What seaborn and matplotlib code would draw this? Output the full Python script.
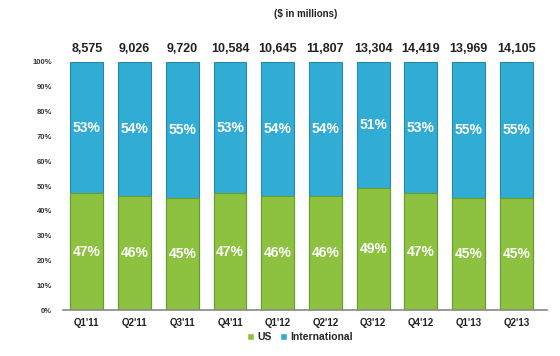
import pandas as pd
import matplotlib
matplotlib.use("Agg")
import matplotlib.pyplot as plt
import seaborn as sns
from matplotlib.patches import Patch

# Données
quarters = ["Q1'11", "Q2'11", "Q3'11", "Q4'11", "Q1'12", "Q2'12", "Q3'12", "Q4'12", "Q1'13", "Q2'13"]
us_pct = [47, 46, 45, 47, 46, 46, 49, 47, 45, 45]
intl_pct = [53, 54, 55, 53, 54, 54, 51, 53, 55, 55]
totals = ["8,575", "9,026", "9,720", "10,584", "10,645", "11,807", "13,304", "14,419", "13,969", "14,105"]

df = pd.DataFrame({"quarter": quarters, "US": us_pct, "International": intl_pct})
df["stack"] = df["US"] + df["International"]

sns.set_style("white")
plt.rcParams["font.family"] = ["Liberation Sans", "DejaVu Sans"]

green = "#8cc23f"
blue = "#31acd5"

fig = plt.figure(figsize=(5.6, 3.56), dpi=100)
ax = fig.add_axes([0.1125, 0.129, 0.865, 0.697])

# On dessine la pile : international en haut, US en bas
sns.barplot(data=df, x="quarter", y="stack", color=blue, width=0.69,
            edgecolor="#2688a9", linewidth=0.8, saturation=1, ax=ax)
sns.barplot(data=df, x="quarter", y="US", color=green, width=0.69,
            edgecolor="#6d9b2b", linewidth=0.8, saturation=1, ax=ax)

for i in range(len(quarters)):
    ax.text(i, us_pct[i] / 2, f"{us_pct[i]}%", ha="center", va="center",
            color="white", fontsize=10, fontweight="bold")
    ax.text(i, us_pct[i] + intl_pct[i] / 2, f"{intl_pct[i]}%", ha="center", va="center",
            color="white", fontsize=10, fontweight="bold")
    ax.text(i, 103, totals[i], ha="center", va="bottom",
            color="#222222", fontsize=9, fontweight="bold")

ax.set_ylim(0, 100)
ax.set_xlim(-0.5, 9.65)
ax.set_yticks(range(0, 101, 10))
ax.set_yticklabels([f"{v}%" for v in range(0, 101, 10)], fontsize=5.5, fontweight="bold", color="#333333")
ax.tick_params(axis="x", labelsize=7, length=0, pad=6)
for lab in ax.get_xticklabels():
    lab.set_fontweight("bold")
    lab.set_color("#222222")
ax.tick_params(axis="y", length=0, pad=8)
ax.set_xlabel("")
ax.set_ylabel("")
for s in ["top", "right", "left"]:
    ax.spines[s].set_visible(False)
ax.spines["bottom"].set_color("#888888")
ax.spines["bottom"].set_linewidth(1.2)

fig.text(0.545, 0.96, "($ in millions)", ha="center", va="center",
         fontsize=7, fontweight="bold", color="#222222")

handles = [Patch(facecolor=green, label="US"), Patch(facecolor=blue, label="International")]
fig.legend(handles=handles, loc="center", bbox_to_anchor=(0.535, 0.053), ncol=2, frameon=False,
           handlelength=0.7, handleheight=0.7, handletextpad=0.3, columnspacing=0.8,
           prop={"weight": "bold", "size": 7.5})

fig.savefig("out.png", dpi=100)
